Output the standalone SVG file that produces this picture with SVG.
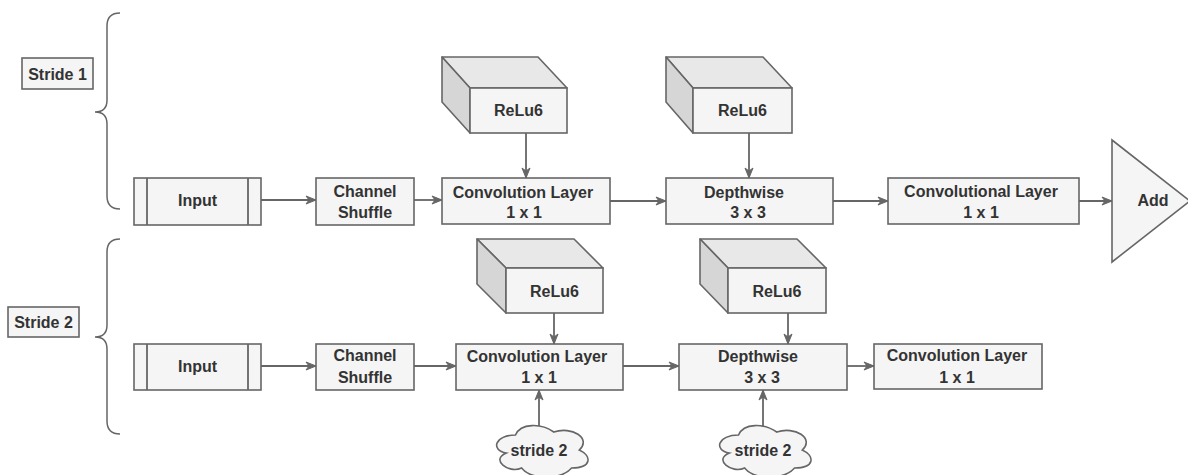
<svg xmlns="http://www.w3.org/2000/svg" width="1188" height="475" viewBox="0 0 1188 475">
<defs>
<style>
.box{fill:#f5f5f5;stroke:#666;stroke-width:1.6}
.top{fill:#e8e8e8;stroke:#666;stroke-width:1.6;stroke-linejoin:round}
.side{fill:#d6d6d6;stroke:#666;stroke-width:1.6;stroke-linejoin:round}
.t{font-family:"Liberation Sans",Arial,sans-serif;font-weight:bold;font-size:16px;fill:#333;text-anchor:middle;dominant-baseline:central}
.brace{fill:none;stroke:#666;stroke-width:1.5}
.c{fill:none;stroke:#666;stroke-width:1.8}
</style>
<marker id="ah" markerUnits="userSpaceOnUse" markerWidth="12" markerHeight="10" refX="11" refY="5" orient="auto">
<path d="M1,1 L11,5 L1,9 L4,5 Z" fill="#666" stroke="#666" stroke-width="1"/>
</marker>
</defs>
<rect width="1188" height="475" fill="#fff"/>

<g id="braces">
<path class="brace" d="M120,13 Q107,13 107,26 L107,100 Q107,112 95,112 Q107,112 107,124 L107,196 Q107,209 120,209"/>
<path class="brace" d="M120,239 Q107,239 107,252 L107,325 Q107,337 95,337 Q107,337 107,349 L107,421 Q107,434 120,434"/>
</g>

<g id="stride1"><rect class="box" x="22" y="58" width="71" height="31"/><text class="t" x="57.5" y="74">Stride 1</text></g>
<g id="stride2"><rect class="box" x="8" y="307" width="71" height="30"/><text class="t" x="43.5" y="322">Stride 2</text></g>

<g id="connectors">
<line class="c" x1="261" y1="200" x2="316" y2="200" marker-end="url(#ah)"/>
<line class="c" x1="414" y1="200" x2="442" y2="200" marker-end="url(#ah)"/>
<line class="c" x1="526" y1="133" x2="526" y2="178" marker-end="url(#ah)"/>
<line class="c" x1="610" y1="201" x2="666" y2="201" marker-end="url(#ah)"/>
<line class="c" x1="749" y1="133" x2="749" y2="178" marker-end="url(#ah)"/>
<line class="c" x1="833" y1="201" x2="888" y2="201" marker-end="url(#ah)"/>
<line class="c" x1="1079" y1="201" x2="1112" y2="201" marker-end="url(#ah)"/>
<line class="c" x1="261" y1="366" x2="316" y2="366" marker-end="url(#ah)"/>
<line class="c" x1="414" y1="366" x2="456" y2="366" marker-end="url(#ah)"/>
<line class="c" x1="554" y1="313" x2="554" y2="344" marker-end="url(#ah)"/>
<line class="c" x1="623" y1="366" x2="679" y2="366" marker-end="url(#ah)"/>
<line class="c" x1="788" y1="313" x2="788" y2="344" marker-end="url(#ah)"/>
<line class="c" x1="847" y1="366" x2="874" y2="366" marker-end="url(#ah)"/>
<line class="c" x1="539" y1="426" x2="539" y2="390" marker-end="url(#ah)"/>
<line class="c" x1="763" y1="426" x2="763" y2="390" marker-end="url(#ah)"/>
</g>

<g id="input1"><rect class="box" x="134" y="178" width="127" height="47"/><line class="c" x1="147" y1="178" x2="147" y2="225" stroke-width="1.6"/><line class="c" x1="248" y1="178" x2="248" y2="225"/><text class="t" x="197.5" y="200">Input</text></g>
<g id="shuffle1"><rect class="box" x="316" y="178" width="98" height="47"/><text class="t" x="365" y="191">Channel</text><text class="t" x="365" y="212">Shuffle</text></g>
<g id="conv1"><rect class="box" x="442" y="178" width="168" height="46"/><text class="t" x="523" y="192">Convolution Layer</text><text class="t" x="524" y="212">1 x 1</text></g>
<g id="dw1"><rect class="box" x="666" y="178" width="167" height="46"/><text class="t" x="744" y="192">Depthwise</text><text class="t" x="748" y="212">3 x 3</text></g>
<g id="conv1b"><rect class="box" x="888" y="178" width="191" height="46"/><text class="t" x="981" y="191">Convolutional Layer</text><text class="t" x="981" y="212">1 x 1</text></g>
<g id="add"><polygon class="box" points="1112,140 1112,262 1190,201"/><text class="t" x="1153" y="200">Add</text></g>

<g id="relu1">
<polygon class="top" points="442,57 538,57 567,88 470,88"/>
<polygon class="side" points="442,57 470,88 470,133 442,102"/>
<rect class="box" x="470" y="88" width="97" height="45"/>
<text class="t" x="518.5" y="110">ReLu6</text>
</g>
<g id="relu2">
<polygon class="top" points="666,57 763,57 792,88 693,88"/>
<polygon class="side" points="666,57 693,88 693,133 666,102"/>
<rect class="box" x="693" y="88" width="99" height="45"/>
<text class="t" x="742.5" y="110">ReLu6</text>
</g>

<g id="input2"><rect class="box" x="134" y="344" width="127" height="46"/><line class="c" x1="147" y1="344" x2="147" y2="390"/><line class="c" x1="248" y1="344" x2="248" y2="390"/><text class="t" x="197.5" y="366">Input</text></g>
<g id="shuffle2"><rect class="box" x="316" y="344" width="98" height="46"/><text class="t" x="365" y="355">Channel</text><text class="t" x="365" y="377">Shuffle</text></g>
<g id="conv2"><rect class="box" x="456" y="344" width="167" height="46"/><text class="t" x="537" y="356">Convolution Layer</text><text class="t" x="539" y="377">1 x 1</text></g>
<g id="dw2"><rect class="box" x="679" y="344" width="168" height="46"/><text class="t" x="758" y="356">Depthwise</text><text class="t" x="762" y="377">3 x 3</text></g>
<g id="conv2b"><rect class="box" x="874" y="344" width="168" height="45"/><text class="t" x="957" y="355">Convolution Layer</text><text class="t" x="957" y="377">1 x 1</text></g>

<g id="relu3">
<polygon class="top" points="477,239 574,239 603,268 506,268"/>
<polygon class="side" points="477,239 506,268 506,313 477,284"/>
<rect class="box" x="506" y="268" width="97" height="45"/>
<text class="t" x="554.5" y="291">ReLu6</text>
</g>
<g id="relu4">
<polygon class="top" points="700,239 797,239 826,268 728,268"/>
<polygon class="side" points="700,239 728,268 728,313 700,284"/>
<rect class="box" x="728" y="268" width="98" height="45"/>
<text class="t" x="777" y="291">ReLu6</text>
</g>

<g id="cloud1">
<path class="box" d="M515.5,435 C495.1,435 490,450 506.3,453 C490,459.6 508.4,474 521.6,468 C530.8,480 561.4,480 571.6,468 C592,468 592,456 579.3,450 C592,438 571.6,426 553.8,432 C541,423 520.6,423 515.5,435 Z"/>
<text class="t" x="539" y="450">stride 2</text>
</g>
<g id="cloud2">
<path class="box" d="M738.5,435 C718.1,435 713,450 729.3,453 C713,459.6 731.4,474 744.6,468 C753.8,480 784.4,480 794.6,468 C815,468 815,456 802.3,450 C815,438 794.6,426 776.8,432 C764,423 743.6,423 738.5,435 Z"/>
<text class="t" x="763" y="450">stride 2</text>
</g>
</svg>
